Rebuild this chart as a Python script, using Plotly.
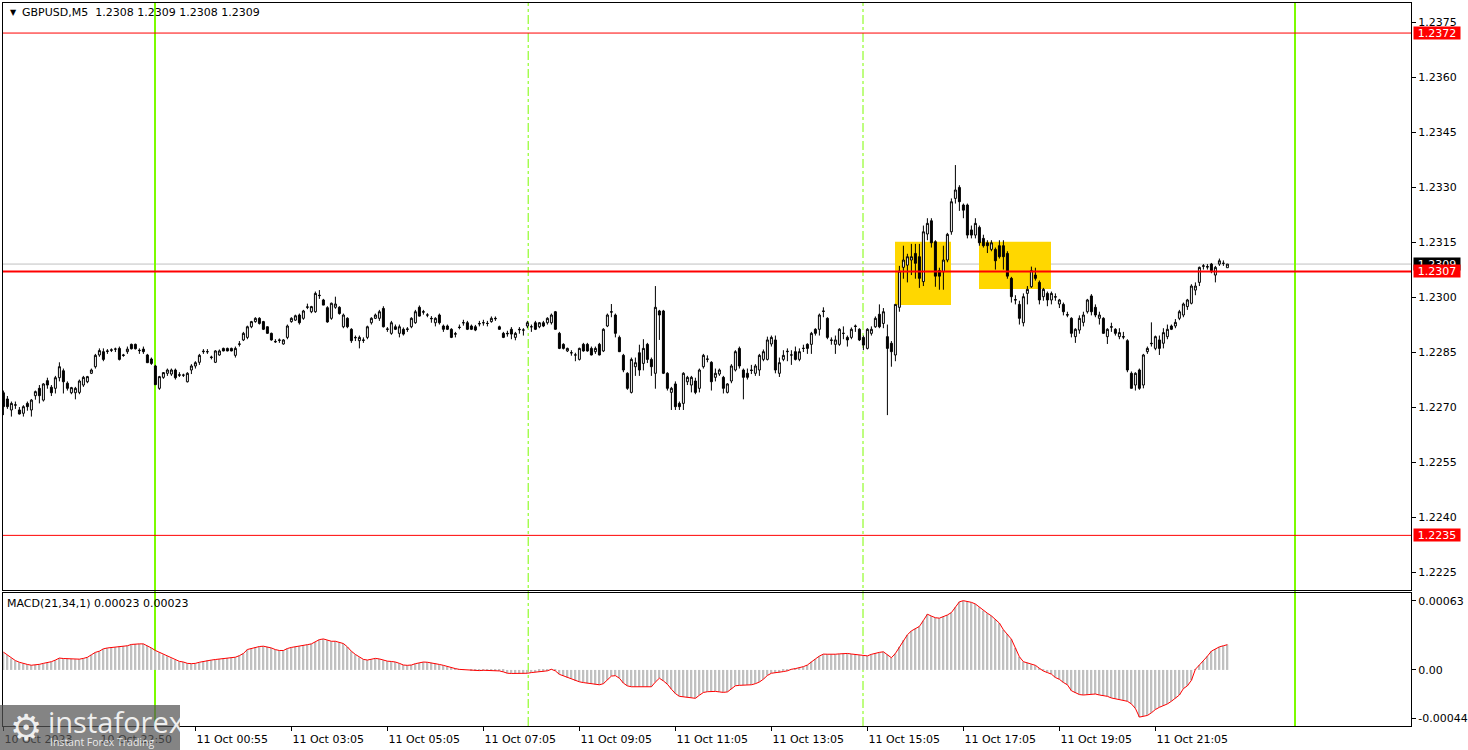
import plotly.graph_objects as go

# ---------------- data (GBPUSD M5) ----------------
open_ = [
1.22739,1.22722,1.22692,1.22705,1.22692,1.22683,1.22710,1.22692,1.22731,1.22751,
1.22719,1.22772,1.22754,1.22751,1.22780,1.22799,1.22765,1.22739,1.22739,1.22740,
1.22760,1.22769,1.22792,1.22810,1.22842,1.22851,1.22853,1.22856,1.22858,1.22860,
1.22842,1.22851,1.22871,1.22871,1.22855,1.22858,1.22842,1.22831,1.22812,1.22751,
1.22781,1.22792,1.22790,1.22801,1.22788,1.22787,1.22769,1.22801,1.22812,1.22822,
1.22851,1.22851,1.22835,1.22822,1.22842,1.22860,1.22860,1.22860,1.22841,1.22871,
1.22883,1.22890,1.22919,1.22933,1.22942,1.22933,1.22919,1.22901,1.22879,1.22883,
1.22872,1.22890,1.22933,1.22937,1.22951,1.22942,1.22972,1.22960,1.22960,1.23005,
1.22992,1.22971,1.22942,1.22972,1.22972,1.22919,1.22942,1.22912,1.22890,1.22881,
1.22883,1.22890,1.22930,1.22942,1.22942,1.22969,1.22913,1.22901,1.22919,1.22901,
1.22912,1.22913,1.22919,1.22930,1.22972,1.22960,1.22951,1.22942,1.22930,1.22951,
1.22921,1.22921,1.22912,1.22900,1.22918,1.22930,1.22930,1.22921,1.22919,1.22928,
1.22930,1.22928,1.22933,1.22942,1.22919,1.22901,1.22901,1.22912,1.22890,1.22912,
1.22910,1.22921,1.22919,1.22930,1.22919,1.22930,1.22930,1.22930,1.22960,1.22901,
1.22871,1.22853,1.22848,1.22842,1.22830,1.22871,1.22871,1.22860,1.22851,1.22871,
1.22853,1.22921,1.22960,1.22951,1.22890,1.22841,1.22792,1.22740,1.22810,1.22848,
1.22819,1.22871,1.22830,1.22792,1.22962,1.22962,1.22792,1.22740,1.22763,1.22710,
1.22710,1.22769,1.22760,1.22771,1.22751,1.22810,1.22830,1.22822,1.22781,1.22790,
1.22781,1.22740,1.22771,1.22801,1.22860,1.22801,1.22792,1.22801,1.22792,1.22801,
1.22830,1.22830,1.22872,1.22883,1.22792,1.22830,1.22851,1.22842,1.22851,1.22830,
1.22860,1.22871,1.22871,1.22912,1.22912,1.22962,1.22942,1.22883,1.22871,1.22871,
1.22901,1.22890,1.22890,1.22921,1.22912,1.22890,1.22860,1.22901,1.22919,1.22953,
1.22928,1.22892,1.22874,1.22842,1.22972,1.23081,1.23087,1.23101,1.23119,1.23110,
1.23042,1.23172,1.23208,1.23151,1.23072,1.23069,1.23101,1.23178,1.23269,1.23299,
1.23251,1.23251,1.23183,1.23169,1.23190,1.23160,1.23148,1.23130,1.23130,1.23140,
1.23140,1.23119,1.23051,1.22993,1.22980,1.22930,1.23010,1.23028,1.23060,1.23040,
1.23001,1.23010,1.22992,1.23001,1.22981,1.22980,1.22952,1.22942,1.22892,1.22910,
1.22931,1.22960,1.23003,1.22972,1.22942,1.22942,1.22892,1.22919,1.22912,1.22892,
1.22892,1.22881,1.22792,1.22760,1.22801,1.22760,1.22851,1.22874,1.22860,1.22883,
1.22874,1.22892,1.22921,1.22921,1.22942,1.22951,1.22974,1.22983,1.23019,1.23040,
1.23084,1.23083,1.23090,1.23060,1.23090,1.23092,1.23080]
high = [
1.22745,1.22730,1.22715,1.22715,1.22700,1.22705,1.22715,1.22722,1.22745,1.22760,
1.22765,1.22780,1.22760,1.22785,1.22822,1.22805,1.22770,1.22755,1.22755,1.22775,
1.22785,1.22785,1.22805,1.22845,1.22860,1.22860,1.22858,1.22860,1.22862,1.22865,
1.22845,1.22865,1.22873,1.22873,1.22860,1.22865,1.22845,1.22835,1.22815,1.22785,
1.22795,1.22805,1.22805,1.22805,1.22795,1.22791,1.22795,1.22817,1.22825,1.22845,
1.22858,1.22858,1.22840,1.22855,1.22857,1.22862,1.22862,1.22862,1.22865,1.22880,
1.22905,1.22922,1.22935,1.22945,1.22945,1.22935,1.22920,1.22903,1.22885,1.22887,
1.22885,1.22925,1.22945,1.22952,1.22955,1.22965,1.22982,1.22976,1.23015,1.23019,
1.22995,1.22975,1.22985,1.23001,1.22975,1.22955,1.22945,1.22915,1.22895,1.22895,
1.22890,1.22922,1.22945,1.22955,1.22965,1.22975,1.22918,1.22935,1.22925,1.22925,
1.22917,1.22918,1.22945,1.22965,1.22977,1.22965,1.22956,1.22948,1.22945,1.22955,
1.22925,1.22925,1.22915,1.22905,1.22925,1.22938,1.22935,1.22925,1.22924,1.22935,
1.22938,1.22935,1.22947,1.22947,1.22922,1.22905,1.22908,1.22918,1.22905,1.22918,
1.22915,1.22935,1.22925,1.22935,1.22932,1.22935,1.22945,1.22955,1.22962,1.22905,
1.22874,1.22862,1.22855,1.22848,1.22862,1.22875,1.22875,1.22865,1.22865,1.22875,
1.22915,1.22955,1.22981,1.22955,1.22895,1.22845,1.22795,1.22835,1.22835,1.22870,
1.22885,1.22875,1.22835,1.23030,1.22965,1.22965,1.22795,1.22755,1.22770,1.22715,
1.22795,1.22785,1.22785,1.22780,1.22805,1.22845,1.22841,1.22825,1.22805,1.22805,
1.22785,1.22765,1.22817,1.22855,1.22865,1.22805,1.22805,1.22815,1.22817,1.22845,
1.22857,1.22892,1.22895,1.22895,1.22835,1.22855,1.22860,1.22855,1.22865,1.22860,
1.22870,1.22874,1.22905,1.22915,1.22955,1.22972,1.22945,1.22890,1.22895,1.22915,
1.22920,1.22895,1.22917,1.22925,1.22915,1.22895,1.22915,1.22920,1.22947,1.22980,
1.22970,1.22925,1.22880,1.22980,1.23085,1.23140,1.23118,1.23145,1.23145,1.23145,
1.23195,1.23215,1.23215,1.23155,1.23080,1.23140,1.23175,1.23269,1.23360,1.23305,
1.23255,1.23255,1.23195,1.23215,1.23195,1.23170,1.23155,1.23155,1.23135,1.23155,
1.23155,1.23125,1.23055,1.23005,1.22990,1.23010,1.23030,1.23083,1.23080,1.23045,
1.23025,1.23015,1.23015,1.23010,1.22995,1.22985,1.22960,1.22945,1.22915,1.22950,
1.22960,1.22995,1.23008,1.22980,1.22960,1.22945,1.22915,1.22930,1.22915,1.22915,
1.22905,1.22885,1.22797,1.22795,1.22805,1.22845,1.22865,1.22931,1.22895,1.22895,
1.22915,1.22925,1.22925,1.22940,1.22965,1.22985,1.22995,1.23035,1.23040,1.23083,
1.23090,1.23090,1.23093,1.23085,1.23105,1.23100,1.23090]
low = [
1.22678,1.22695,1.22674,1.22695,1.22680,1.22674,1.22690,1.22674,1.22720,1.22710,
1.22715,1.22750,1.22730,1.22737,1.22770,1.22737,1.22745,1.22735,1.22721,1.22735,
1.22755,1.22765,1.22790,1.22805,1.22837,1.22825,1.22845,1.22850,1.22850,1.22827,
1.22837,1.22845,1.22857,1.22857,1.22845,1.22845,1.22820,1.22815,1.22760,1.22747,
1.22777,1.22785,1.22785,1.22775,1.22782,1.22782,1.22767,1.22790,1.22805,1.22815,
1.22845,1.22845,1.22830,1.22820,1.22840,1.22852,1.22852,1.22852,1.22835,1.22865,
1.22880,1.22885,1.22915,1.22930,1.22925,1.22910,1.22900,1.22881,1.22875,1.22875,
1.22870,1.22885,1.22930,1.22935,1.22925,1.22938,1.22967,1.22956,1.22957,1.22995,
1.22978,1.22930,1.22938,1.22968,1.22952,1.22915,1.22915,1.22875,1.22880,1.22860,
1.22875,1.22885,1.22925,1.22940,1.22935,1.22917,1.22905,1.22897,1.22910,1.22890,
1.22895,1.22905,1.22915,1.22927,1.22947,1.22952,1.22945,1.22930,1.22920,1.22925,
1.22905,1.22910,1.22888,1.22890,1.22912,1.22922,1.22910,1.22910,1.22907,1.22920,
1.22922,1.22920,1.22930,1.22935,1.22911,1.22888,1.22892,1.22885,1.22882,1.22900,
1.22895,1.22915,1.22905,1.22910,1.22915,1.22918,1.22925,1.22925,1.22911,1.22858,
1.22857,1.22850,1.22840,1.22825,1.22827,1.22851,1.22851,1.22841,1.22845,1.22841,
1.22850,1.22918,1.22945,1.22890,1.22850,1.22795,1.22747,1.22737,1.22785,1.22785,
1.22800,1.22820,1.22785,1.22750,1.22883,1.22790,1.22745,1.22692,1.22692,1.22692,
1.22692,1.22760,1.22740,1.22735,1.22740,1.22805,1.22822,1.22745,1.22770,1.22785,
1.22737,1.22737,1.22765,1.22797,1.22805,1.22721,1.22775,1.22790,1.22785,1.22785,
1.22825,1.22827,1.22865,1.22792,1.22782,1.22825,1.22825,1.22815,1.22827,1.22825,
1.22850,1.22845,1.22845,1.22895,1.22895,1.22945,1.22885,1.22870,1.22845,1.22867,
1.22885,1.22865,1.22885,1.22905,1.22880,1.22855,1.22857,1.22895,1.22916,1.22915,
1.22915,1.22678,1.22810,1.22825,1.22960,1.23050,1.23040,1.23060,1.23050,1.23025,
1.23030,1.23155,1.23135,1.23028,1.23020,1.23020,1.23095,1.23170,1.23255,1.23235,
1.23215,1.23160,1.23160,1.23160,1.23140,1.23135,1.23120,1.23125,1.23075,1.23105,
1.23075,1.23050,1.22985,1.22980,1.22925,1.22920,1.22980,1.23025,1.23045,1.22980,
1.22990,1.22975,1.22980,1.22990,1.22970,1.22950,1.22945,1.22890,1.22875,1.22900,
1.22920,1.22955,1.22950,1.22945,1.22925,1.22900,1.22872,1.22905,1.22895,1.22885,
1.22885,1.22795,1.22751,1.22745,1.22747,1.22751,1.22845,1.22865,1.22855,1.22842,
1.22860,1.22885,1.22910,1.22915,1.22937,1.22945,1.22965,1.22980,1.23005,1.23030,
1.23075,1.23075,1.23065,1.23040,1.23085,1.23085,1.23080]
close = [
1.22701,1.22701,1.22710,1.22706,1.22681,1.22701,1.22701,1.22719,1.22742,1.22731,
1.22763,1.22760,1.22739,1.22780,1.22810,1.22769,1.22751,1.22753,1.22751,1.22771,
1.22781,1.22783,1.22801,1.22841,1.22854,1.22830,1.22852,1.22855,1.22858,1.22830,
1.22841,1.22858,1.22859,1.22859,1.22854,1.22851,1.22821,1.22819,1.22761,1.22783,
1.22794,1.22801,1.22801,1.22780,1.22787,1.22787,1.22792,1.22812,1.22821,1.22841,
1.22852,1.22851,1.22836,1.22853,1.22853,1.22853,1.22853,1.22853,1.22860,1.22872,
1.22901,1.22919,1.22933,1.22942,1.22928,1.22912,1.22901,1.22883,1.22878,1.22882,
1.22883,1.22921,1.22942,1.22949,1.22930,1.22962,1.22973,1.22974,1.23010,1.23004,
1.22978,1.22932,1.22983,1.22981,1.22955,1.22951,1.22919,1.22881,1.22889,1.22890,
1.22882,1.22919,1.22942,1.22951,1.22960,1.22919,1.22912,1.22930,1.22912,1.22919,
1.22899,1.22912,1.22942,1.22960,1.22948,1.22959,1.22951,1.22941,1.22942,1.22930,
1.22912,1.22912,1.22890,1.22899,1.22917,1.22930,1.22912,1.22912,1.22910,1.22927,
1.22930,1.22928,1.22942,1.22941,1.22912,1.22890,1.22900,1.22899,1.22901,1.22911,
1.22910,1.22930,1.22919,1.22912,1.22930,1.22921,1.22942,1.22951,1.22912,1.22860,
1.22860,1.22860,1.22848,1.22842,1.22860,1.22853,1.22853,1.22842,1.22860,1.22842,
1.22912,1.22951,1.22959,1.22901,1.22851,1.22801,1.22751,1.22830,1.22821,1.22801,
1.22860,1.22830,1.22810,1.22972,1.22951,1.22792,1.22751,1.22751,1.22701,1.22701,
1.22792,1.22781,1.22781,1.22740,1.22801,1.22841,1.22831,1.22769,1.22792,1.22801,
1.22751,1.22763,1.22812,1.22851,1.22812,1.22781,1.22781,1.22800,1.22812,1.22841,
1.22851,1.22883,1.22890,1.22801,1.22821,1.22841,1.22852,1.22842,1.22830,1.22851,
1.22860,1.22860,1.22901,1.22901,1.22951,1.22961,1.22890,1.22882,1.22883,1.22912,
1.22901,1.22883,1.22912,1.22920,1.22883,1.22869,1.22912,1.22912,1.22942,1.22919,
1.22960,1.22860,1.22851,1.22980,1.23071,1.23101,1.23110,1.23110,1.23092,1.23051,
1.23178,1.23201,1.23148,1.23057,1.23057,1.23101,1.23171,1.23260,1.23292,1.23260,
1.23237,1.23169,1.23169,1.23201,1.23148,1.23140,1.23140,1.23148,1.23099,1.23110,
1.23110,1.23057,1.23001,1.22992,1.22942,1.23001,1.23021,1.23072,1.23051,1.22992,
1.23021,1.22992,1.23010,1.23000,1.22992,1.22960,1.22951,1.22901,1.22912,1.22942,
1.22951,1.22992,1.22960,1.22951,1.22951,1.22901,1.22912,1.22918,1.22901,1.22903,
1.22891,1.22801,1.22751,1.22792,1.22751,1.22842,1.22860,1.22873,1.22892,1.22860,
1.22903,1.22912,1.22912,1.22931,1.22960,1.22981,1.22992,1.23030,1.23030,1.23081,
1.23085,1.23082,1.23072,1.23081,1.23099,1.23092,1.23090]

# MACD(21,34,1) main value per bar (signal identical, period 1)
macd = [
16.2e-5,13.5e-5,10.5e-5,8.5e-5,7.0e-5,5.7e-5,5.0e-5,4.3e-5,4.5e-5,5.1e-5,
6.0e-5,6.6e-5,7.5e-5,9.0e-5,10.8e-5,10.4e-5,10.2e-5,10.0e-5,9.7e-5,9.8e-5,
10.5e-5,11.5e-5,13.8e-5,16.0e-5,17.1e-5,19.2e-5,20.0e-5,20.5e-5,20.7e-5,21.4e-5,
21.6e-5,22.0e-5,23.2e-5,23.6e-5,23.7e-5,23.7e-5,22.0e-5,20.0e-5,17.7e-5,16.0e-5,
14.1e-5,12.5e-5,10.5e-5,9.0e-5,7.8e-5,7.2e-5,6.0e-5,5.7e-5,6.0e-5,7.0e-5,
7.8e-5,8.7e-5,9.0e-5,9.5e-5,9.8e-5,10.3e-5,10.8e-5,11.2e-5,11.6e-5,13.0e-5,
15.0e-5,18.6e-5,19.5e-5,20.7e-5,21.3e-5,21.6e-5,21.0e-5,20.0e-5,18.5e-5,17.7e-5,
17.7e-5,19.5e-5,20.5e-5,21.0e-5,21.6e-5,22.5e-5,23.0e-5,23.7e-5,25.5e-5,27.6e-5,
28.2e-5,27.0e-5,26.1e-5,26.1e-5,25.0e-5,24.0e-5,21.0e-5,17.0e-5,14.1e-5,11.5e-5,
9.6e-5,9.0e-5,9.5e-5,10.5e-5,10.0e-5,8.7e-5,8.0e-5,7.7e-5,7.2e-5,6.0e-5,
4.5e-5,4.2e-5,4.5e-5,5.7e-5,6.3e-5,7.2e-5,7.0e-5,6.5e-5,6.0e-5,5.0e-5,
4.2e-5,3.0e-5,2.0e-5,1.2e-5,0.5e-5,0.2e-5,0.0,-0.5e-5,-0.9e-5,-0.6e-5,
-0.3e-5,-0.3e-5,-0.3e-5,-0.3e-5,-0.9e-5,-1.8e-5,-3.0e-5,-3.2e-5,-3.3e-5,-3.3e-5,
-3.3e-5,-3.0e-5,-2.4e-5,-2.0e-5,-1.7e-5,-1.5e-5,-0.8e-5,0.6e-5,-0.9e-5,-4.0e-5,
-5.4e-5,-6.9e-5,-8.0e-5,-9.9e-5,-10.8e-5,-11.5e-5,-12.0e-5,-12.8e-5,-13.2e-5,-13.5e-5,
-12.5e-5,-9.0e-5,-5.6e-5,-5.2e-5,-7.5e-5,-12.0e-5,-14.5e-5,-15.3e-5,-15.3e-5,-15.3e-5,
-15.3e-5,-15.3e-5,-15.3e-5,-11.0e-5,-7.5e-5,-10.0e-5,-13.0e-5,-17.5e-5,-21.5e-5,-24.0e-5,
-24.5e-5,-24.9e-5,-25.2e-5,-25.8e-5,-23.0e-5,-20.5e-5,-19.8e-5,-19.5e-5,-19.5e-5,-20.0e-5,
-20.4e-5,-20.0e-5,-17.5e-5,-14.4e-5,-14.0e-5,-13.8e-5,-13.6e-5,-13.5e-5,-12.5e-5,-11.0e-5,
-8.4e-5,-5.0e-5,-3.0e-5,-2.6e-5,-2.4e-5,-1.5e-5,-0.8e-5,0.6e-5,1.2e-5,2.0e-5,
3.0e-5,4.5e-5,7.5e-5,10.0e-5,12.6e-5,14.4e-5,14.3e-5,14.1e-5,14.3e-5,14.6e-5,
14.9e-5,15.0e-5,14.5e-5,14.0e-5,13.5e-5,12.8e-5,12.8e-5,14.2e-5,15.3e-5,16.0e-5,
16.5e-5,14.0e-5,11.1e-5,15.0e-5,21.0e-5,27.0e-5,32.0e-5,35.5e-5,37.5e-5,39.6e-5,
45.0e-5,50.7e-5,49.0e-5,47.5e-5,47.1e-5,48.5e-5,50.0e-5,52.2e-5,57.0e-5,62.0e-5,
63.0e-5,62.5e-5,61.5e-5,60.0e-5,57.0e-5,54.0e-5,51.6e-5,49.2e-5,46.0e-5,42.6e-5,
36.6e-5,32.6e-5,28.0e-5,20.0e-5,12.0e-5,7.5e-5,6.6e-5,5.0e-5,4.2e-5,1.5e-5,
-1.0e-5,-2.4e-5,-3.8e-5,-6.9e-5,-8.5e-5,-11.4e-5,-13.5e-5,-18.9e-5,-21.0e-5,-22.4e-5,
-22.8e-5,-22.5e-5,-22.0e-5,-21.9e-5,-22.8e-5,-23.4e-5,-24.0e-5,-25.5e-5,-26.3e-5,-27.0e-5,
-27.3e-5,-28.5e-5,-30.9e-5,-35.0e-5,-42.9e-5,-42.0e-5,-41.4e-5,-39.0e-5,-36.0e-5,-34.0e-5,
-32.5e-5,-30.9e-5,-28.5e-5,-26.0e-5,-22.8e-5,-17.0e-5,-14.4e-5,-9.5e-5,0.6e-5,4.5e-5,
8.1e-5,12.5e-5,17.1e-5,19.0e-5,21.0e-5,22.0e-5,23.0e-5]

bars = list(range(len(close)))

price_ticks = [1.2225, 1.2240, 1.2255, 1.2270, 1.2285, 1.2300,
               1.2315, 1.2330, 1.2345, 1.2360, 1.2375]
macd_ticks = [-0.00044, 0.0, 0.00063]
macd_tick_text = ["-0.00044", "0.00", "0.00063"]
time_tick_bars = [0, 24, 48, 72, 96, 120, 144, 168, 192, 216, 240, 264, 288]
time_tick_labels = ["10 Oct 2023", "10 Oct 22:50", "11 Oct 00:55", "11 Oct 03:05",
                    "11 Oct 05:05", "11 Oct 07:05", "11 Oct 09:05", "11 Oct 11:05",
                    "11 Oct 13:05", "11 Oct 15:05", "11 Oct 17:05", "11 Oct 19:05",
                    "11 Oct 21:05"]
levels = [1.2372, 1.2307, 1.2235]
level_widths = [1, 2, 1]
bid = 1.2309
session_bars = [37.9, 322.9]        # solid green vertical lines
separator_bars = [131.2, 214.9]     # dash-dot green vertical lines
zones = [(222.9, 236.9, 1.22978, 1.23151), (243.9, 261.9, 1.23022, 1.23151)]

# ---------------- geometry ----------------
W, H = 1468, 750
def px(x): return x / W
def py(y): return 1 - y / H

FONT = "DejaVu Sans"
X_RANGE = [-0.1, 351.9]

fig = go.Figure()

fig.add_trace(go.Candlestick(
    x=bars, open=open_, high=high, low=low, close=close,
    increasing=dict(line=dict(color="black", width=1), fillcolor="white"),
    decreasing=dict(line=dict(color="black", width=1), fillcolor="black"),
    whiskerwidth=0, xaxis="x", yaxis="y", showlegend=False, hoverinfo="skip"))

fig.add_trace(go.Bar(
    x=bars, y=macd, width=0.45, marker=dict(color="#C0C0C0", line=dict(width=0)),
    xaxis="x2", yaxis="y2", showlegend=False, hoverinfo="skip"))
fig.add_trace(go.Scatter(
    x=bars, y=macd, mode="lines", line=dict(color="red", width=1),
    xaxis="x2", yaxis="y2", showlegend=False, hoverinfo="skip"))

shapes = []
for x0, x1, y0, y1 in zones:
    shapes.append(dict(type="rect", xref="x", yref="y", x0=x0, x1=x1, y0=y0, y1=y1,
                       fillcolor="#FFD700", line=dict(width=0), layer="below"))
shapes.append(dict(type="line", xref="x domain", yref="y", x0=0, x1=1, y0=bid, y1=bid,
                   line=dict(color="#C0C0C0", width=1), layer="below"))
for b in session_bars:
    shapes.append(dict(type="line", xref="x", yref="paper", x0=b, x1=b,
                       y0=py(726), y1=py(3), line=dict(color="#7CFC00", width=2), layer="below"))
for b in separator_bars:
    shapes.append(dict(type="line", xref="x", yref="paper", x0=b, x1=b,
                       y0=py(726), y1=py(3),
                       line=dict(color="#7CFC00", width=1, dash="dashdot"), layer="below"))
for lv, w in zip(levels, level_widths):
    shapes.append(dict(type="line", xref="x domain", yref="y", x0=0, x1=1, y0=lv, y1=lv,
                       line=dict(color="red", width=w), layer="above"))
shapes.append(dict(type="rect", xref="paper", yref="paper", x0=0, x1=px(180),
                   y0=0, y1=py(705), fillcolor="rgba(85,85,85,0.72)",
                   line=dict(width=0), layer="above"))

annotations = []
last_o, last_h, last_l, last_c = open_[-1], high[-1], low[-1], close[-1]
annotations.append(dict(xref="paper", yref="paper", x=px(8), y=py(12), xanchor="left",
                        yanchor="middle", text="▼", showarrow=False,
                        font=dict(family=FONT, size=8, color="black")))
annotations.append(dict(xref="paper", yref="paper", x=px(20), y=py(13), xanchor="left",
                        yanchor="middle", showarrow=False,
                        text=f"GBPUSD,M5\u00a0\u00a0{last_o:.4f} {last_h:.4f} {last_l:.4f} {last_c:.4f}",
                        font=dict(family=FONT, size=11, color="black")))
annotations.append(dict(xref="paper", yref="paper", x=px(5), y=py(603), xanchor="left",
                        yanchor="middle", showarrow=False,
                        text=f"MACD(21,34,1) {macd[-1]:.5f} {macd[-1]:.5f}",
                        font=dict(family=FONT, size=11, color="black")))
annotations.append(dict(xref="paper", yref="y", x=px(1413), y=bid, xanchor="left",
                        yanchor="middle", text=f"{bid:.4f}", showarrow=False,
                        bgcolor="black", width=46, height=12, borderpad=0, align="center",
                        font=dict(family=FONT, size=11, color="white")))
for lv in levels:
    annotations.append(dict(xref="paper", yref="y", x=px(1413), y=lv, xanchor="left",
                            yanchor="middle", text=f"{lv:.4f}", showarrow=False,
                            bgcolor="red", width=46, height=12, borderpad=0, align="center",
                            font=dict(family=FONT, size=11, color="white")))
annotations.append(dict(xref="paper", yref="paper", x=px(26), y=py(727), xanchor="center",
                        yanchor="middle", text="⚙", showarrow=False,
                        font=dict(family=FONT, size=36, color="rgba(255,255,255,0.9)")))
annotations.append(dict(xref="paper", yref="paper", x=px(46), y=py(721), xanchor="left",
                        yanchor="middle", text="instaforex", showarrow=False,
                        font=dict(family="Open Sans", size=29, color="rgba(255,255,255,0.88)")))
annotations.append(dict(xref="paper", yref="paper", x=px(48), y=py(742), xanchor="left",
                        yanchor="middle", text="Instant Forex Trading", showarrow=False,
                        font=dict(family="Open Sans", size=10.5, color="rgba(255,255,255,0.85)")))

axis_common = dict(showline=True, mirror=True, linecolor="black", linewidth=1,
                   showgrid=False, zeroline=False)

fig.update_layout(
    width=W, height=H, margin=dict(l=0, r=0, t=0, b=0),
    paper_bgcolor="white", plot_bgcolor="white", showlegend=False,
    xaxis=dict(domain=[px(3), px(1411)], range=X_RANGE, anchor="y",
               showticklabels=False, ticks="", rangeslider=dict(visible=False),
               **axis_common),
    xaxis2=dict(domain=[px(3), px(1411)], range=X_RANGE, anchor="y2", matches="x",
                tickmode="array", tickvals=time_tick_bars, ticktext=time_tick_labels,
                ticks="outside", ticklen=4, tickcolor="black",
                ticklabelposition="outside right", ticklabelstandoff=3,
                tickfont=dict(family=FONT, size=11, color="black"), **axis_common),
    yaxis=dict(domain=[py(590), py(3)], range=[1.22201, 1.23802], anchor="x",
               side="right", tickmode="array", tickvals=price_ticks,
               ticktext=[f"{t:.4f}" for t in price_ticks],
               ticks="outside", ticklen=4, tickcolor="black",
               tickfont=dict(family=FONT, size=11, color="black"), **axis_common),
    yaxis2=dict(domain=[py(726), py(593)], range=[-0.00051, 0.00070], anchor="x2",
                side="right", tickmode="array", tickvals=macd_ticks, ticktext=macd_tick_text,
                ticks="outside", ticklen=4, tickcolor="black",
                tickfont=dict(family=FONT, size=11, color="black"), **axis_common),
    shapes=shapes, annotations=annotations,
)

fig.write_html("out.html", config={"displayModeBar": False},
               post_script="document.body.style.margin='0';document.body.style.overflow='hidden';")
